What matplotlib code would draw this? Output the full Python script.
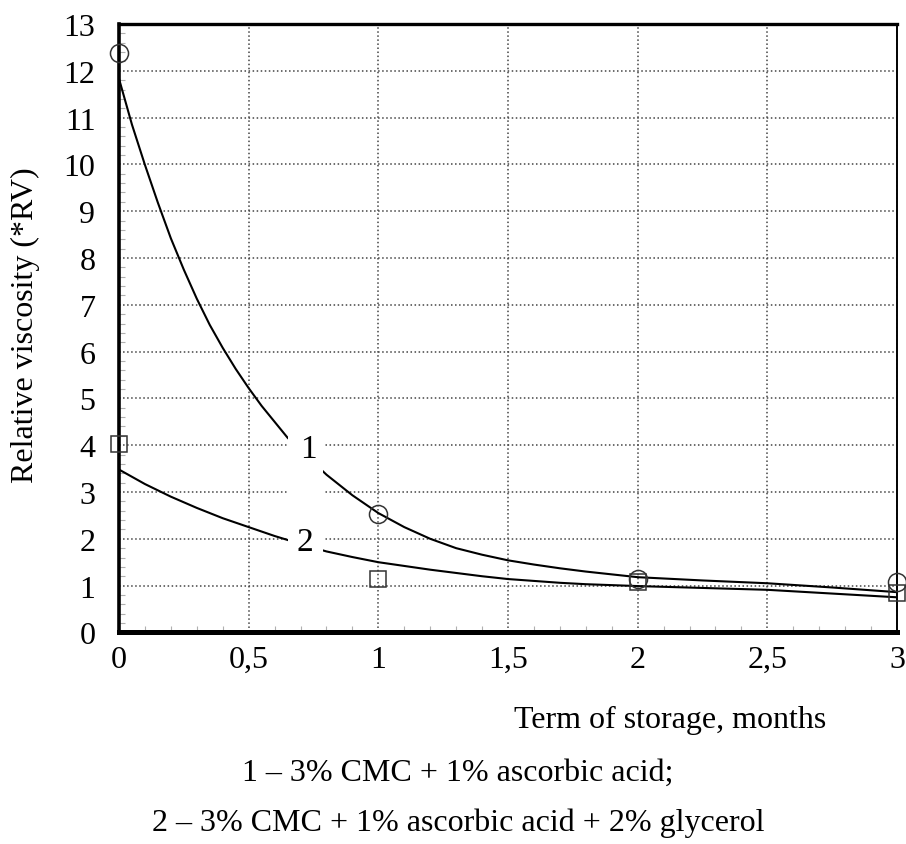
import matplotlib
matplotlib.use("Agg")
import matplotlib.pyplot as plt
from matplotlib.patches import Rectangle
from matplotlib.ticker import MultipleLocator, FuncFormatter

plt.rcParams['font.family'] = ['Liberation Serif', 'DejaVu Serif']

# measured points
months = [0, 1, 2, 3]
rv_1 = [12.37, 2.54, 1.14, 1.07]   # circles
rv_2 = [4.03, 1.14, 1.07, 0.85]    # squares

# trend lines
trend1_x = [0, 0.05, 0.1, 0.15, 0.2, 0.25, 0.3, 0.35, 0.4, 0.45, 0.5, 0.55, 0.6, 0.65,
            0.8, 0.9, 1.0, 1.1, 1.2, 1.3, 1.4, 1.5, 1.6, 1.7, 1.8, 1.9, 2.0,
            2.25, 2.5, 2.75, 3.0]
trend1_y = [11.83, 10.85, 9.99, 9.18, 8.42, 7.75, 7.13, 6.57, 6.08, 5.63, 5.22, 4.84, 4.50, 4.16,
            3.37, 2.93, 2.55, 2.25, 2.0, 1.80, 1.66, 1.54, 1.45, 1.37, 1.30, 1.24, 1.18,
            1.11, 1.05, 0.96, 0.86]
trend2_x = [0, 0.1, 0.2, 0.3, 0.4, 0.5, 0.6, 0.7, 0.8, 0.9, 1.0, 1.1, 1.2, 1.3, 1.4,
            1.5, 1.6, 1.7, 1.8, 2.0, 2.25, 2.5, 2.75, 3.0]
trend2_y = [3.48, 3.17, 2.90, 2.66, 2.44, 2.25, 2.06, 1.89, 1.73, 1.61, 1.50, 1.42, 1.34, 1.27, 1.20,
            1.14, 1.10, 1.06, 1.03, 0.99, 0.95, 0.91, 0.83, 0.75]

curve_labels = ['1', '2']
legend_lines = ['1 \u2013 3% CMC + 1% ascorbic acid;',
                '2 \u2013 3% CMC + 1% ascorbic acid + 2% glycerol']

fig = plt.figure(figsize=(9.06, 8.45), dpi=100)
ax = fig.add_axes([119 / 906, 1 - 633.4 / 845, 778 / 906, (633.4 - 25) / 845])

ax.plot(trend1_x, trend1_y, color='black', lw=1.5, zorder=3)
ax.plot(trend2_x, trend2_y, color='black', lw=1.5, zorder=3)
ax.plot(months, rv_1, 'o', ms=13, mfc='none', mec='#333333', mew=1.1, clip_on=False, zorder=5)
ax.plot(months, rv_2, 's', ms=12, mfc='none', mec='#333333', mew=1.1, clip_on=False, zorder=4)

# white boxes behind the curve numbers
ax.add_patch(Rectangle((0.652, 2.86), 0.135, 1.39, facecolor='white', edgecolor='none', zorder=6))
ax.add_patch(Rectangle((0.652, 1.53), 0.135, 0.79, facecolor='white', edgecolor='none', zorder=6))
ax.text(0.729, 3.93, curve_labels[0], fontsize=24, ha='center', va='center', zorder=7)
ax.text(0.717, 1.94, curve_labels[1], fontsize=24, ha='center', va='center', zorder=7)

ax.set_xlim(0, 3)
ax.set_ylim(0, 13)
ax.xaxis.set_major_locator(MultipleLocator(0.5))
ax.xaxis.set_minor_locator(MultipleLocator(0.1))
ax.yaxis.set_major_locator(MultipleLocator(1))
ax.yaxis.set_minor_locator(MultipleLocator(0.2))
ax.xaxis.set_major_formatter(FuncFormatter(lambda v, p: ('%g' % v).replace('.', ',')))
ax.yaxis.set_major_formatter(FuncFormatter(lambda v, p: '%d' % v))

ax.grid(True, which='major', linestyle=':', color='#444444', lw=1.1, zorder=1)
ax.set_axisbelow(True)

ax.tick_params(axis='both', which='major', length=0, labelsize=23)
ax.tick_params(axis='y', which='major', pad=17)
ax.tick_params(axis='x', which='major', pad=9)
ax.tick_params(axis='both', which='minor', direction='in', length=4, width=0.8, color='#b0b0b0')

ax.spines['left'].set_linewidth(2.6)
ax.spines['bottom'].set_linewidth(3.6)
ax.spines['top'].set_linewidth(2.4)
ax.spines['right'].set_linewidth(1.4)

fig.text(25 / 906, 1 - 325 / 845, 'Relative viscosity (*RV)', fontsize=23,
         rotation=90, ha='center', va='center')
fig.text(670 / 906, 1 - 720 / 845, 'Term of storage, months', fontsize=23, ha='center', va='center')
fig.text(458 / 906, 1 - 773 / 845, legend_lines[0], fontsize=23, ha='center', va='center')
fig.text(458 / 906, 1 - 823 / 845, legend_lines[1], fontsize=23, ha='center', va='center')

fig.savefig('out.png', dpi=100)
